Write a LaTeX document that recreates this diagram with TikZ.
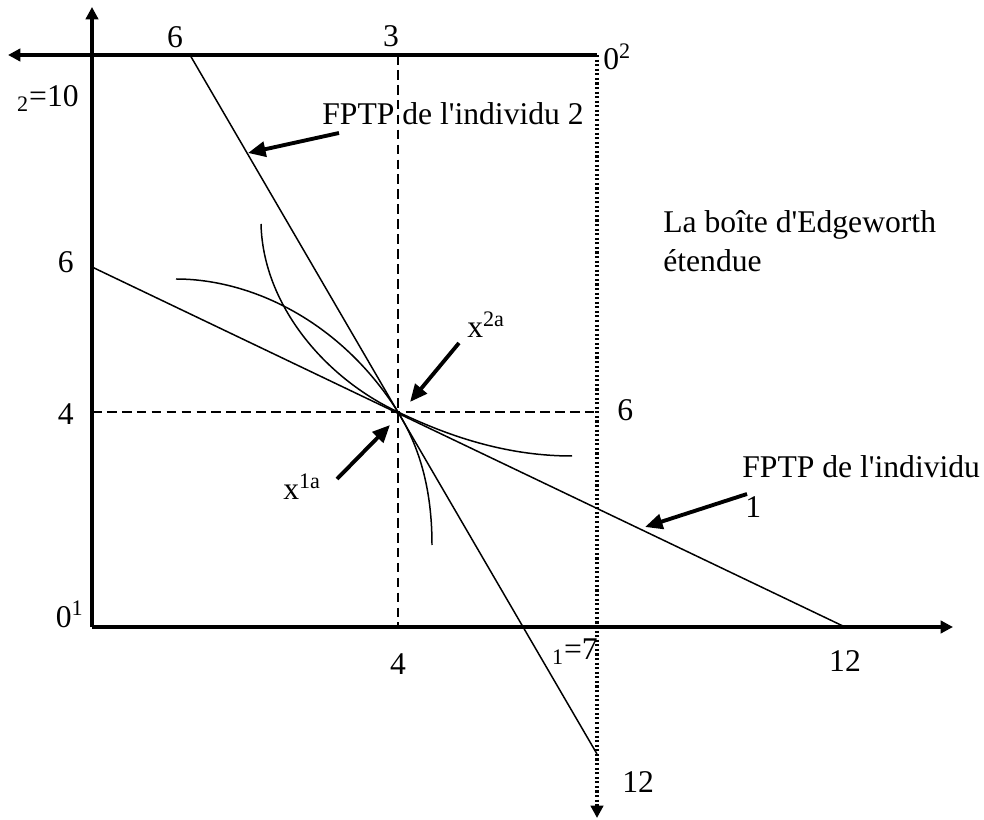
\documentclass[tikz,border=0pt]{standalone}
\usepackage{fontspec}
\setmainfont{Liberation Serif}
\newfontfamily\plainserif{Liberation Serif}
\usetikzlibrary{arrows.meta}

\begin{document}
\begin{tikzpicture}[x=0.02cm, y=-0.02cm,
  axis/.style={line width=1.9pt, -{Triangle[length=7pt,width=7pt]}},
  thinline/.style={line width=0.85pt},
  guide/.style={line width=1.6pt, dash pattern=on 5.5pt off 3pt},
  dotline/.style={line width=2pt, dash pattern=on 1.2pt off 1.4pt, -{Triangle[length=7pt,width=7pt]}},
  pointer/.style={line width=2.2pt, -{Triangle[length=10pt,width=8.5pt]}},
  lbl/.style={font=\plainserif\fontsize{18}{22}\selectfont, inner sep=0pt}]
\useasboundingbox (0,0) rectangle (984,820);
% origins, allocation and axis ends
\coordinate (O1) at (92,627);
\coordinate (O2) at (597,55);
\coordinate (xa) at (398,412);
\coordinate (xend) at (953,627);
\coordinate (yend) at (92,7);
\coordinate (topend) at (8,55);
\coordinate (dotend) at (597,818);
\coordinate (x3) at (398,55);
\coordinate (x4) at (398,627);
\coordinate (y4) at (92,412);
\coordinate (r6) at (597,412);
\draw[axis] (O1) -- (xend);
\draw[axis] (O1) -- (yend);
\draw[axis] (O2) -- (topend);
\draw[dotline] (O2) -- (dotend);
\draw[guide] (x3) -- (x4);
\draw[guide] (y4) -- (r6);
% the two budget lines
\coordinate (b1s) at (92,267);
\coordinate (b1e) at (845,627);
\coordinate (b2s) at (190,55);
\coordinate (b2e) at (597,754);
\draw[thinline] (b1s) -- (b1e);
\draw[thinline] (b2s) -- (b2e);
% indifference curves through the allocation
\draw[thinline] (176,279) .. controls (250,279) and (340,320) .. (xa)
  .. controls (440,432) and (500,456) .. (572,456);
\draw[thinline] (261,224) .. controls (263,305) and (325,378) .. (xa)
  .. controls (415,440) and (432,480) .. (432,545);
% pointers
\coordinate (p2s) at (339,133);
\coordinate (p2e) at (248,153);
\coordinate (p1s) at (747,494);
\coordinate (p1e) at (645,527);
\coordinate (pas) at (459,343);
\coordinate (pae) at (410,402);
\coordinate (pbs) at (337,479);
\coordinate (pbe) at (390,425);
\draw[pointer] (p2s) -- (p2e);
\draw[pointer] (p1s) -- (p1e);
\draw[pointer] (pas) -- (pae);
\draw[pointer] (pbs) -- (pbe);
% labels
\node[lbl, anchor=base] (t6) at (175,48) {6};
\node[lbl, anchor=base] (t3) at (391,47) {3};
\node[lbl, anchor=base west] (tO2) at (603,70) {0\textsuperscript{2}};
\node[lbl, anchor=base east] (l10) at (79,107) {\textsubscript{2}=10};
\node[lbl, anchor=base east] (l6) at (74,273) {6};
\node[lbl, anchor=base east] (l4) at (74,425) {4};
\node[lbl, anchor=base east] (lO1) at (84,627) {0\textsuperscript{1}};
\node[lbl, anchor=base west] (r6lbl) at (617,421) {6};
\node[lbl, anchor=base] (b4) at (398,674) {4};
\node[lbl, anchor=base east] (b7) at (598,660) {\textsubscript{1}=7};
\node[lbl, anchor=base] (b12) at (845,671) {12};
\node[lbl, anchor=base west] (d12) at (622,792) {12};
\node[lbl, anchor=base west] (x2a) at (467,338) {x\textsuperscript{2a}};
\node[lbl, anchor=base west] (x1a) at (283,500) {x\textsuperscript{1a}};
\node[lbl, anchor=base west] (f2) at (322,125) {FPTP de l'individu 2};
\node[lbl, anchor=base west] (f1) at (742,478) {FPTP de l'individu};
\node[lbl, anchor=base west] (f1b) at (745,518) {1};
\node[lbl, anchor=base west] (box1) at (663,233) {La boîte d'Edgeworth};
\node[lbl, anchor=base west] (box2) at (663,272) {étendue};
\end{tikzpicture}
\end{document}
